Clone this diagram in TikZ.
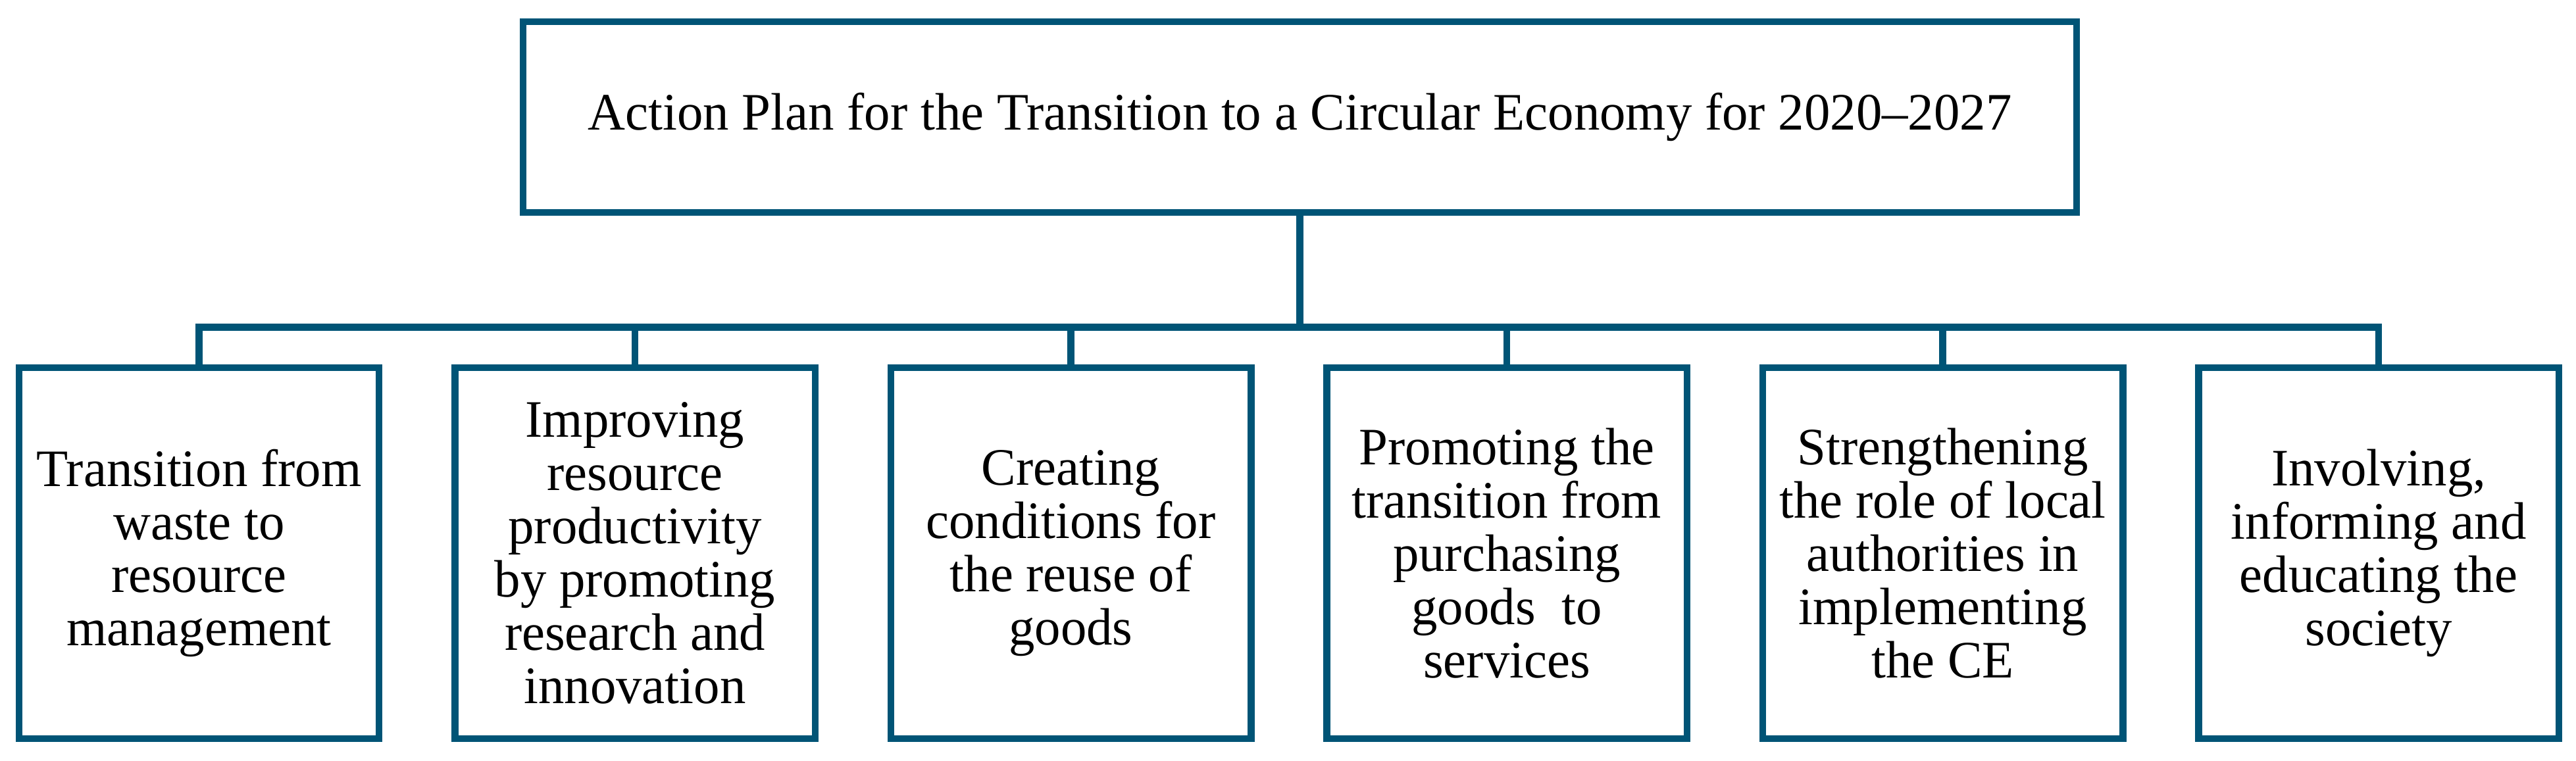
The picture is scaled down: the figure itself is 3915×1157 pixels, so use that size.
\documentclass[tikz,border=0pt]{standalone}
\usepackage{fontspec}
\setmainfont{Liberation Serif}[FakeStretch=0.985]
\definecolor{boxblue}{RGB}{0,84,118}
\tikzset{
  line/.style={draw=boxblue, line width=1.05pt},
  topbox/.style={line, rectangle, minimum width=236.1pt, minimum height=29pt, inner sep=0pt,
    font=\fontsize{8}{8.1}\selectfont},
  itembox/.style={line, rectangle, minimum width=54.75pt, minimum height=56.4pt, inner sep=0pt,
    align=center, font=\fontsize{8}{8.1}\selectfont},
}
\begin{document}
\begin{tikzpicture}[x=0.1pt, y=-0.1pt]
\useasboundingbox (0,0) rectangle (3915,1157);
\node[topbox] (top) at (1975.5,178) {Action Plan for the Transition to a Circular Economy for 2020--2027};
\node[itembox] (b1) at (302.5,841) {Transition from\\waste to\\resource\\management};
\node[itembox] (b2) at (965,841) {Improving\\resource\\productivity\\by promoting\\research and\\innovation};
\node[itembox] (b3) at (1627.5,841) {Creating\\conditions for\\the reuse of\\goods};
\node[itembox] (b4) at (2290,841) {Promoting the\\transition from\\purchasing\\goods\ \ to\\services};
\node[itembox] (b5) at (2952.5,841) {Strengthening\\the role of local\\authorities in\\implementing\\the CE};
\node[itembox] (b6) at (3615,841) {Involving,\\informing and\\educating the\\society};
\coordinate (bus) at (0,497.5);
\draw[line] (top.south) -- (top.south |- bus);
\draw[line] (b1.north) -- (b1.north |- bus) -- (b6.north |- bus) -- (b6.north);
\foreach \i in {2,3,4,5} \draw[line] (b\i.north |- bus) -- (b\i.north);
\end{tikzpicture}
\end{document}
